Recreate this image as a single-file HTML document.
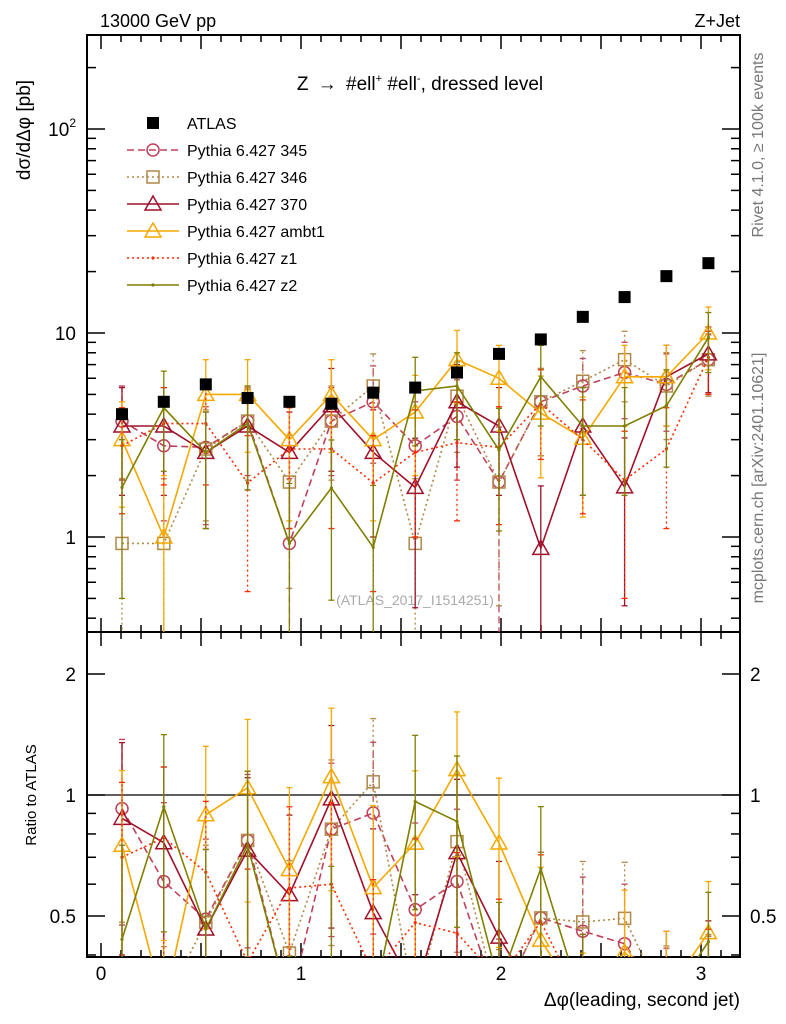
<!DOCTYPE html>
<html><head><meta charset="utf-8"><style>
html,body{margin:0;padding:0;background:#fff;width:786px;height:1024px;overflow:hidden;}
svg{display:block;font-family:"Liberation Sans",sans-serif;overflow:hidden;}
</style></head><body>
<svg id="c" width="786" height="1024" viewBox="0 0 786 1024" xmlns="http://www.w3.org/2000/svg">
<defs>
<clipPath id="cm"><rect x="87" y="35" width="653" height="597"/></clipPath>
<clipPath id="cr"><rect x="87" y="632" width="653" height="325"/></clipPath>
</defs>
<text x="100" y="27" font-size="18">13000 GeV pp</text>
<text x="740" y="27" font-size="18" text-anchor="end">Z+Jet</text>
<text x="420" y="90" font-size="19" text-anchor="middle">Z <tspan dx="4">→</tspan> <tspan dx="4">#ell</tspan><tspan font-size="11" dy="-8">+</tspan><tspan dy="8"> #ell</tspan><tspan font-size="11" dy="-8">-</tspan><tspan dy="8">, dressed level</tspan></text>
<text transform="translate(30,130) rotate(-90)" font-size="19" text-anchor="middle">dσ/dΔφ [pb]</text>
<text transform="translate(36,795) rotate(-90)" font-size="15" text-anchor="middle">Ratio to ATLAS</text>
<text transform="translate(763,145) rotate(-90)" font-size="16" fill="#777" text-anchor="middle">Rivet 4.1.0, ≥ 100k events</text>
<text transform="translate(763,478) rotate(-90)" font-size="16" fill="#777" text-anchor="middle">mcplots.cern.ch [arXiv:2401.10621]</text>
<text x="415" y="605" font-size="14" fill="#aaa" text-anchor="middle">(ATLAS_2017_I1514251)</text>
<text x="740" y="1006" font-size="19" text-anchor="end">Δφ(leading, second jet)</text>
<g id="g"></g>
</svg>
<script>
const xCenters=[0.105,0.314,0.524,0.733,0.942,1.152,1.361,1.571,1.780,1.990,2.199,2.409,2.618,2.827,3.037];
const atlasVals=[4.0,4.6,5.6,4.8,4.6,4.5,5.1,5.4,6.4,7.9,9.3,12,15,19,22];
const v345=[3.7,2.8,2.75,3.7,0.93,3.7,4.6,2.8,3.9,1.86,4.6,5.5,6.4,5.6,7.4];
const v346=[0.93,0.93,2.7,3.7,1.86,3.7,5.5,0.93,4.9,1.86,4.6,5.8,7.4,5.5,7.4];
const v370=[3.5,3.5,2.6,3.5,2.6,4.4,2.6,1.75,4.6,3.5,0.88,3.5,1.76,6.1,7.9];
const vambt1=[3.0,1.0,5.0,5.0,3.0,5.0,3.0,4.1,7.4,6.0,4.05,3.05,6.1,6.1,10];
const vz1=[2.8,3.6,3.6,1.84,2.7,2.7,1.84,2.6,2.9,2.75,4.5,3.0,1.9,2.7,7.6];
const vz2=[1.75,4.3,2.6,3.6,0.93,1.74,0.89,5.2,5.5,2.67,6.1,3.5,3.5,4.4,9.5];
const e345=[1.8,1.6,1.6,1.7,1.0,1.7,2.3,1.8,2.0,1.6,2.1,2.0,2.6,2.3,2.4];
const e346=[1.0,1.0,1.5,1.8,1.3,1.8,2.4,1.0,2.3,1.4,2.1,2.4,2.8,2.5,2.5];
const e370=[1.9,1.9,1.5,1.8,1.5,2.3,1.6,1.3,2.4,1.9,0.9,1.9,1.3,2.6,2.8];
const eambt1=[1.6,1.0,2.4,2.4,1.8,2.4,1.8,2.1,2.9,2.7,2.1,1.8,2.6,2.6,3.4];
const ez1=[1.5,1.8,1.8,1.3,1.6,1.6,1.3,1.6,1.7,1.6,2.1,1.7,1.4,1.6,2.6];
const ez2=[1.25,2.2,1.5,1.9,0.9,1.25,0.9,2.4,2.5,1.6,2.6,1.9,1.9,2.2,3.1];
const xTicks=[0,1,2,3];
const ratioTicks=[0.5,1,2];

const X=v=>101+200*v;
const Y=v=>537-204*Math.log10(Math.max(v,0.2));
const R=v=>795-402*Math.log10(Math.max(v,0.3));
const NS="http://www.w3.org/2000/svg";
const g=document.getElementById('g');
function mk(tag,at,par){const e=document.createElementNS(NS,tag);for(const k in at)e.setAttribute(k,at[k]);(par||g).appendChild(e);return e;}

const fm=mk('rect',{x:87,y:35,width:653,height:597,fill:'none',stroke:'#000','stroke-width':2});


const fr=mk('rect',{x:87,y:632,width:653,height:325,fill:'none',stroke:'#000','stroke-width':2});



for(let i=0;i<=32;i++){const v=i/10;const x=X(v);if(x<88||x>739)continue;const big=i%5===0;const L=big?14:7;
 for(const [yb,yt] of [[632,35],[957,632]]){
  mk('line',{x1:x,x2:x,y1:yb,y2:yb-L,stroke:'#000','stroke-width':1.5});
  mk('line',{x1:x,x2:x,y1:yt,y2:yt+L,stroke:'#000','stroke-width':1.5});
 }}
xTicks.forEach(v=>{const t=mk('text',{x:X(v),y:980,'font-size':19,'text-anchor':'middle'});t.textContent=v;

});

for(let d=-1;d<=2;d++){for(let m=1;m<=9;m++){const v=m*Math.pow(10,d);if(v<0.35)continue;const y=Y(v);if(y<36||y>631)continue;const L=m===1?18:9;
 mk('line',{x1:87,x2:87+L,y1:y,y2:y,stroke:'#000','stroke-width':1.5});
 mk('line',{x1:740,x2:740-L,y1:y,y2:y,stroke:'#000','stroke-width':1.5});}}
[[1,'1'],[10,'10']].forEach(([v,s])=>{const t=mk('text',{x:76,y:Y(v)+7,'font-size':19,'text-anchor':'end'});t.textContent=s;

});
const t100=mk('text',{x:76,y:Y(100)+7,'font-size':19,'text-anchor':'end'});
t100.innerHTML='10<tspan font-size="12" dy="-9">2</tspan>';



for(let d=-1;d<=0;d++){for(let m=1;m<=9;m++){const v=m*Math.pow(10,d);if(v<0.4)continue;const y=R(v);if(y<633||y>956)continue;const L=(v===0.5||v===1||v===2)?18:9;
 mk('line',{x1:87,x2:87+L,y1:y,y2:y,stroke:'#000','stroke-width':1.5});
 mk('line',{x1:740,x2:740-L,y1:y,y2:y,stroke:'#000','stroke-width':1.5});}}
ratioTicks.forEach(v=>{[[76,'end'],[750,'start']].forEach(([x,a])=>{const t=mk('text',{x:x,y:R(v)+7,'font-size':19,'text-anchor':a});t.textContent=v;

});});
mk('line',{x1:87,x2:740,y1:R(1),y2:R(1),stroke:'#000','stroke-width':1.2});

const gm=mk('g',{'clip-path':'url(#cm)'});
const gr=mk('g',{'clip-path':'url(#cr)'});

function marker(par,type,x,y,col){
 if(type==='circle')return mk('circle',{cx:x,cy:y,r:6,fill:'none',stroke:col,'stroke-width':1.5},par);
 if(type==='square')return mk('rect',{x:x-6,y:y-6,width:12,height:12,fill:'none',stroke:col,'stroke-width':1.5},par);
 if(type==='tri')return mk('polygon',{points:`${x},${y-8} ${x-8},${y+6} ${x+8},${y+6}`,fill:'none',stroke:col,'stroke-width':1.5},par);
 if(type==='fsq')return mk('rect',{x:x-6,y:y-6,width:12,height:12,fill:'#000'},par);
 return mk('circle',{cx:x,cy:y,r:1.6,fill:col},par);
}
const series=[
 {name:'Pythia 6.427 345',v:v345,e:e345,col:'#c0405a',dash:'7,4',m:'circle',key:'345'},
 {name:'Pythia 6.427 346',v:v346,e:e346,col:'#b08848',dash:'2,3',m:'square',key:'346'},
 {name:'Pythia 6.427 370',v:v370,e:e370,col:'#a0102a',dash:'',m:'tri',key:'370'},
 {name:'Pythia 6.427 ambt1',v:vambt1,e:eambt1,col:'#f5a800',dash:'',m:'tri',key:'ambt1'},
 {name:'Pythia 6.427 z1',v:vz1,e:ez1,col:'#ff2a00',dash:'2,3',m:'dot',key:'z1'},
 {name:'Pythia 6.427 z2',v:vz2,e:ez2,col:'#7f7f00',dash:'',m:'dot',key:'z2'},
];
function drawSeries(s,par,fy,vals,errs,pre){
 const pts=vals.map((v,i)=>X(xCenters[i])+','+fy(v)).join(' ');
 const pl=mk('polyline',{points:pts,fill:'none',stroke:s.col,'stroke-width':1.6,'stroke-dasharray':s.dash},par);
 
 
 vals.forEach((v,i)=>{const x=X(xCenters[i]);const lo=v-errs[i],hi=v+errs[i];
  mk('line',{x1:x,x2:x,y1:fy(lo),y2:fy(hi),stroke:s.col,'stroke-width':1.3,'stroke-dasharray':s.dash},par);
  mk('line',{x1:x-3,x2:x+3,y1:fy(hi),y2:fy(hi),stroke:s.col,'stroke-width':1.3},par);
  mk('line',{x1:x-3,x2:x+3,y1:fy(lo),y2:fy(lo),stroke:s.col,'stroke-width':1.3},par);
  const mm=marker(par,s.m,x,fy(v),s.col);
  
  
 });
}
series.forEach(s=>{
 drawSeries(s,gm,Y,s.v,s.e,'');
 drawSeries(s,gr,R,s.v.map((v,i)=>v/atlasVals[i]),s.e.map((e,i)=>e/atlasVals[i]),'ratio-');
});
atlasVals.forEach((v,i)=>{const m=marker(gm,'fsq',X(xCenters[i]),Y(v));
 
 });

const lg=mk('g',{});


const ae=mk('g',{},lg);


marker(ae,'fsq',153,123);
const at=mk('text',{x:187,y:129,'font-size':16},ae);at.textContent='ATLAS';
series.forEach((s,k)=>{const y=150+27*k;const e=mk('g',{},lg);
 
 
 mk('line',{x1:127,x2:179,y1:y,y2:y,stroke:s.col,'stroke-width':1.6,'stroke-dasharray':s.dash},e);
 marker(e,s.m,153,y,s.col);
 const t=mk('text',{x:187,y:y+6,'font-size':16},e);t.textContent=s.name;});
</script>
</body></html>
